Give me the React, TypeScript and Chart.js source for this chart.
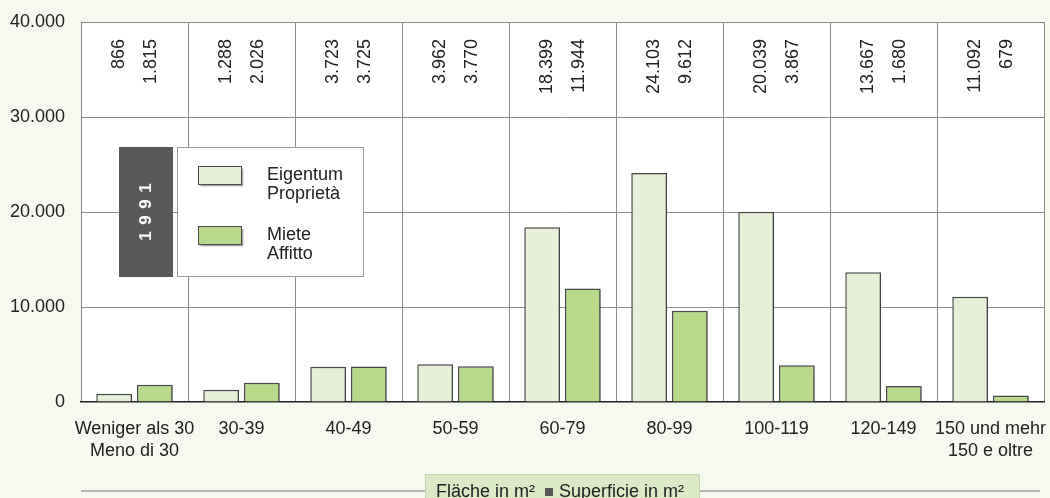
import React, { useEffect, useRef } from 'react';
import { Chart, registerables } from 'chart.js';

Chart.register(...registerables);

const categories: string[][] = [
  ['Weniger als 30', 'Meno di 30'],
  ['30-39'],
  ['40-49'],
  ['50-59'],
  ['60-79'],
  ['80-99'],
  ['100-119'],
  ['120-149'],
  ['150 und mehr', '150 e oltre'],
];
const eigentum = [866, 1288, 3723, 3962, 18399, 24103, 20039, 13667, 11092];
const miete = [1815, 2026, 3725, 3770, 11944, 9612, 3867, 1680, 679];
const seriesNames: string[][] = [
  ['Eigentum', 'Proprietà'],
  ['Miete', 'Affitto'],
];
const yearLabel = '1991';
const yMax = 40000;
const yStep = 10000;
const axisTitleLeft = 'Fläche in m²';
const axisTitleRight = 'Superficie in m²';

const FONT = '"Liberation Sans", Arial, sans-serif';
const LIGHT = '#e6f0d8';
const GREEN = '#b9d98b';
const BORDER = '#4a4a4a';
const BG = '#f6f9f0';
const TEXT = '#222222';

const fmt = (n: number) => String(n).replace(/\B(?=(\d{3})+(?!\d))/g, '.');

export default function App() {
  const ref = useRef<HTMLCanvasElement | null>(null);

  useEffect(() => {
    if (!ref.current) return;

    const bgPlugin = {
      id: 'bg',
      beforeDraw(chart: any) {
        const { ctx, chartArea } = chart;
        ctx.save();
        ctx.fillStyle = BG;
        ctx.fillRect(0, 0, chart.width, chart.height);
        ctx.fillStyle = '#ffffff';
        ctx.fillRect(chartArea.left, chartArea.top, chartArea.right - chartArea.left, chartArea.bottom - chartArea.top);
        ctx.restore();
      },
    };

    const shadowPlugin = {
      id: 'shadow',
      beforeDatasetsDraw(chart: any) {
        const ctx = chart.ctx;
        ctx.save();
        ctx.shadowColor = 'rgba(0,0,0,0.3)';
        ctx.shadowOffsetX = 1.5;
        ctx.shadowOffsetY = 1;
        ctx.shadowBlur = 1.5;
      },
      afterDatasetsDraw(chart: any) {
        chart.ctx.restore();
      },
    };

    const decoPlugin = {
      id: 'deco',
      afterDraw(chart: any) {
        const { ctx, chartArea } = chart;
        const xs = chart.scales.x;
        ctx.save();
        // rotated value labels
        ctx.fillStyle = TEXT;
        ctx.font = `18px ${FONT}`;
        ctx.textAlign = 'right';
        ctx.textBaseline = 'middle';
        for (let i = 0; i < categories.length; i++) {
          const cx = xs.getPixelForValue(i);
          const pairs: [number, number][] = [
            [cx - 15, eigentum[i]],
            [cx + 17, miete[i]],
          ];
          for (const [px, v] of pairs) {
            ctx.save();
            ctx.translate(px, chartArea.top + 17);
            ctx.rotate(-Math.PI / 2);
            ctx.fillText(fmt(v), 0, 0);
            ctx.restore();
          }
        }

        // year box
        ctx.fillStyle = '#58595b';
        ctx.fillRect(119, 147, 54, 130);
        ctx.fillStyle = '#ffffff';
        ctx.font = `bold 17px ${FONT}`;
        ctx.textAlign = 'center';
        ctx.textBaseline = 'middle';
        const chars = yearLabel.split('');
        chars.forEach((ch, k) => {
          ctx.save();
          ctx.translate(146.5, 236 - k * 16);
          ctx.rotate(-Math.PI / 2);
          ctx.fillText(ch, 0, 0);
          ctx.restore();
        });

        // legend box
        ctx.fillStyle = '#ffffff';
        ctx.fillRect(177, 147, 187, 130);
        ctx.strokeStyle = '#9a9a9a';
        ctx.lineWidth = 1;
        ctx.strokeRect(177.5, 147.5, 186, 129);
        const sw = [
          { y: 166, c: LIGHT },
          { y: 226, c: GREEN },
        ];
        sw.forEach((s, k) => {
          ctx.save();
          ctx.shadowColor = 'rgba(0,0,0,0.35)';
          ctx.shadowOffsetX = 1.5;
          ctx.shadowOffsetY = 1.5;
          ctx.shadowBlur = 1.5;
          ctx.fillStyle = s.c;
          ctx.fillRect(198, s.y, 44, 19);
          ctx.restore();
          ctx.strokeStyle = BORDER;
          ctx.lineWidth = 1;
          ctx.strokeRect(198.5, s.y + 0.5, 43, 18);
          ctx.fillStyle = TEXT;
          ctx.font = `18px ${FONT}`;
          ctx.textAlign = 'left';
          ctx.textBaseline = 'alphabetic';
          ctx.fillText(seriesNames[k][0], 267, s.y + 14);
          ctx.fillText(seriesNames[k][1], 267, s.y + 33);
        });

        // bottom axis title
        ctx.strokeStyle = '#9a9a9a';
        ctx.lineWidth = 1.5;
        ctx.beginPath();
        ctx.moveTo(chartArea.left, 491);
        ctx.lineTo(1040, 491);
        ctx.stroke();
        ctx.fillStyle = '#dbe9c7';
        ctx.fillRect(425, 474, 275, 30);
        ctx.strokeStyle = '#c5d6ae';
        ctx.lineWidth = 1;
        ctx.strokeRect(425.5, 474.5, 274, 30);
        ctx.fillStyle = TEXT;
        ctx.font = `18px ${FONT}`;
        ctx.textAlign = 'left';
        ctx.textBaseline = 'middle';
        ctx.fillText(axisTitleLeft, 436, 492);
        ctx.fillStyle = '#555555';
        ctx.fillRect(545, 488, 8, 8);
        ctx.fillStyle = TEXT;
        ctx.fillText(axisTitleRight, 559, 492);
        ctx.restore();
      },
    };

    const chart = new Chart(ref.current, {
      type: 'bar',
      data: {
        labels: categories,
        datasets: [
          {
            label: seriesNames[0].join(' '),
            data: eigentum,
            backgroundColor: LIGHT,
            borderColor: BORDER,
            borderWidth: 1.5,
            categoryPercentage: 0.76,
            barPercentage: 0.88,
          },
          {
            label: seriesNames[1].join(' '),
            data: miete,
            backgroundColor: GREEN,
            borderColor: BORDER,
            borderWidth: 1.5,
            categoryPercentage: 0.76,
            barPercentage: 0.88,
          },
        ],
      },
      options: {
        responsive: false,
        animation: false,
        devicePixelRatio: 1,
        layout: { padding: { top: 22, right: 6, left: 0, bottom: 0 } },
        plugins: {
          legend: { display: false },
          tooltip: { enabled: false },
        },
        scales: {
          x: {
            grid: { color: '#8a8a8a', lineWidth: 1, drawTicks: false, offset: true },
            border: { display: true, color: '#222222', width: 1.5 },
            ticks: {
              color: TEXT,
              font: { family: FONT, size: 18, lineHeight: 1.22 },
              padding: 16,
              maxRotation: 0,
              autoSkip: false,
            },
            afterFit: (s: any) => {
              s.height = 96;
              s.paddingLeft = 0;
              s.paddingRight = 0;
            },
          },
          y: {
            min: 0,
            max: yMax,
            grid: {
              color: (c: any) => (c.tick && c.tick.value === 0 ? 'rgba(0,0,0,0)' : '#8a8a8a'),
              lineWidth: 1,
              drawTicks: false,
            },
            border: { display: false },
            ticks: {
              stepSize: yStep,
              color: TEXT,
              font: { family: FONT, size: 18 },
              padding: 16,
              callback: (v: any) => fmt(Number(v)),
            },
            afterFit: (s: any) => {
              s.width = 81;
              s.paddingTop = 0;
              s.paddingBottom = 0;
            },
          },
        },
      },
      plugins: [bgPlugin, shadowPlugin, decoPlugin],
    });

    return () => chart.destroy();
  }, []);

  return (
    <div style={{ position: 'fixed', left: 0, top: 0, width: 1050, height: 498, background: BG }}>
      <canvas ref={ref} width={1050} height={498} style={{ width: 1050, height: 498, display: 'block' }} />
    </div>
  );
}
